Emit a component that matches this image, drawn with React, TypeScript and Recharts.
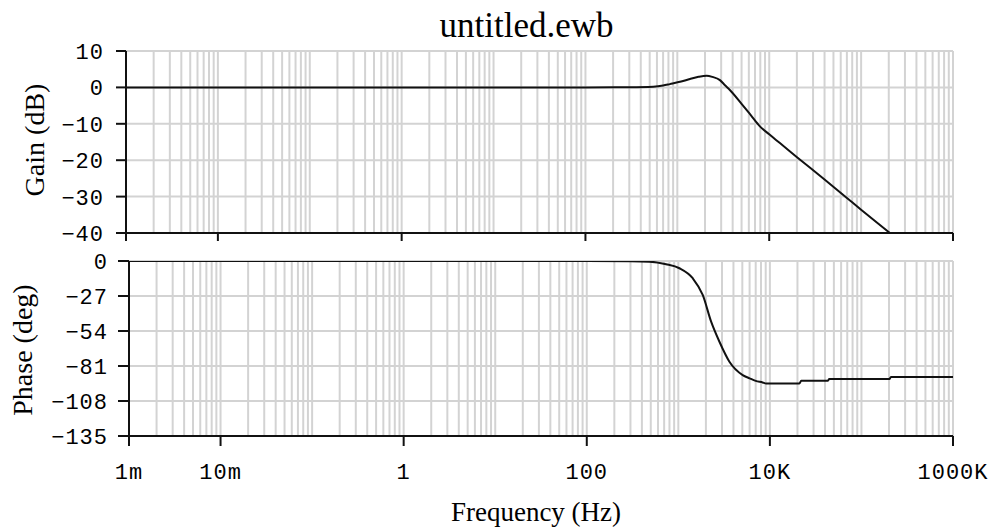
import React from 'react';
import { LineChart, Line, XAxis, YAxis, CartesianGrid } from 'recharts';

// ---- data ----
const gainFreq = [0.001, 1, 100, 300, 547, 700, 830, 1100, 1371, 1700, 2084, 2400, 2909, 3300, 3730, 5000, 6300, 7920, 10000, 13070, 19900, 40000, 69500, 100000, 205700, 1000000];
const gainDb = [0, 0, 0, 0.05, 0.2, 0.5, 0.9, 1.6, 2.3, 2.9, 3.2, 2.9, 2.0, 0.6, -0.7, -4.5, -7.6, -10.7, -12.9, -15.3, -19.1, -25.3, -30.3, -33.6, -40, -54.2];

const phaseFreq = [0.001, 1, 100, 300, 483, 736, 1028, 1436, 1847, 2282, 2812, 3614, 5047, 6000, 7000, 8340, 9090, 21000, 22000, 42800, 44500, 202000, 210000, 1000000];
const phaseDeg = [0, 0, 0, -0.1, -0.5, -2.5, -5.6, -13.3, -26.2, -46.8, -62.3, -77.7, -88, -90.5, -92.5, -93.7, -94.5, -94.5, -92.4, -92.4, -91.1, -91.1, -89.4, -89.4];

const gainTicks = [10, 0, -10, -20, -30, -40];
const phaseTicks = [0, -27, -54, -81, -108, -135];
const freqTicks = [0.001, 0.01, 1, 100, 10000, 1000000];
const freqTickLabels = ['1m', '10m', '1', '100', '10K', '1000K'];

const titleText = 'untitled.ewb';
const xLabel = 'Frequency (Hz)';
const gainLabel = 'Gain (dB)';
const phaseLabel = 'Phase (deg)';

// log-grid positions (1..9 per decade)
const gridFreqs: number[] = [];
for (let n = -3; n <= 5; n++) {
  for (let k = 1; k <= 9; k++) {
    if (n === -3 && k === 1) continue;
    gridFreqs.push(Number((k * Math.pow(10, n)).toPrecision(6)));
  }
}
gridFreqs.push(1000000);

const gainData = gainFreq.map((f, i) => ({ f, g: gainDb[i] }));
const phaseData = phaseFreq.map((f, i) => ({ f, p: phaseDeg[i] }));

const MONO = "'Liberation Mono', 'Courier New', monospace";
const SERIF = "'Liberation Serif', 'Times New Roman', serif";
const GRID = '#d3d3d3';
const INK = '#111';

const fmtNum = (v: number) => (v < 0 ? '\u2212' + Math.abs(v) : String(v));

const YTick = (props: any) => {
  const { x, y, payload } = props;
  return (
    <text x={x} y={y} dy="0.36em" textAnchor="end" fontFamily={MONO} fontSize={22} letterSpacing={1} fill="#000">
      {fmtNum(payload.value)}
    </text>
  );
};

const XTick = (props: any) => {
  const { x, y, payload } = props;
  const idx = freqTicks.findIndex((t) => Math.abs(t - payload.value) / t < 1e-6);
  return (
    <text x={x} y={y} dy="0.71em" textAnchor="middle" fontFamily={MONO} fontSize={22} letterSpacing={1} fill="#000">
      {idx >= 0 ? freqTickLabels[idx] : ''}
    </text>
  );
};

const EmptyTick = () => <g />;

export default function App() {
  return (
    <div style={{ position: 'absolute', left: 0, top: 0, width: 992, height: 531, background: '#fff', overflow: 'hidden' }}>
      <div style={{ position: 'absolute', left: 0, top: 0 }}>
        <LineChart width={992} height={260} data={gainData} margin={{ top: 51, right: 39, bottom: 7, left: 66 }}>
          <CartesianGrid stroke={GRID} strokeWidth={2} verticalValues={gridFreqs} horizontalValues={gainTicks} />
          <XAxis
            dataKey="f"
            type="number"
            scale="log"
            domain={[0.001, 1000000]}
            ticks={freqTicks}
            interval={0}
            height={20}
            tickSize={8}
            tick={<EmptyTick />}
            axisLine={{ stroke: INK, strokeWidth: 2 }}
            tickLine={{ stroke: INK, strokeWidth: 2 }}
            allowDataOverflow
          />
          <YAxis
            type="number"
            domain={[-40, 10]}
            ticks={gainTicks}
            interval={0}
            width={60}
            tickSize={10}
            tickMargin={12}
            tick={<YTick />}
            axisLine={{ stroke: INK, strokeWidth: 2 }}
            tickLine={{ stroke: INK, strokeWidth: 2 }}
            allowDataOverflow
          />
          <Line dataKey="g" type="monotone" stroke={INK} strokeWidth={2} dot={false} isAnimationActive={false} />
        </LineChart>
      </div>
      <div style={{ position: 'absolute', left: 0, top: 240 }}>
        <LineChart width={992} height={291} data={phaseData} margin={{ top: 21, right: 39, bottom: 35, left: 69 }}>
          <CartesianGrid stroke={GRID} strokeWidth={2} verticalValues={gridFreqs} horizontalValues={phaseTicks} />
          <XAxis
            dataKey="f"
            type="number"
            scale="log"
            domain={[0.001, 1000000]}
            ticks={freqTicks}
            interval={0}
            height={60}
            tickSize={10}
            tickMargin={17}
            tick={<XTick />}
            axisLine={{ stroke: INK, strokeWidth: 2 }}
            tickLine={{ stroke: INK, strokeWidth: 2 }}
            allowDataOverflow
          />
          <YAxis
            type="number"
            domain={[-135, 0]}
            ticks={phaseTicks}
            interval={0}
            width={60}
            tickSize={11}
            tickMargin={10}
            tick={<YTick />}
            axisLine={{ stroke: INK, strokeWidth: 2 }}
            tickLine={{ stroke: INK, strokeWidth: 2 }}
            allowDataOverflow
          />
          <Line dataKey="p" type="monotone" stroke={INK} strokeWidth={2} dot={false} isAnimationActive={false} />
        </LineChart>
      </div>
      <svg width={992} height={531} style={{ position: 'absolute', left: 0, top: 0, pointerEvents: 'none' }}>
        <text x={526.5} y={37} textAnchor="middle" fontFamily={SERIF} fontSize={35} fill="#000">
          {titleText}
        </text>
        <text x={536} y={521} textAnchor="middle" fontFamily={SERIF} fontSize={27} fill="#000">
          {xLabel}
        </text>
        <text x={44} y={140} textAnchor="middle" fontFamily={SERIF} fontSize={28} fill="#000" transform="rotate(-90 44 140)">
          {gainLabel}
        </text>
        <text x={32} y={350} textAnchor="middle" fontFamily={SERIF} fontSize={28} fill="#000" transform="rotate(-90 32 350)">
          {phaseLabel}
        </text>
      </svg>
    </div>
  );
}
